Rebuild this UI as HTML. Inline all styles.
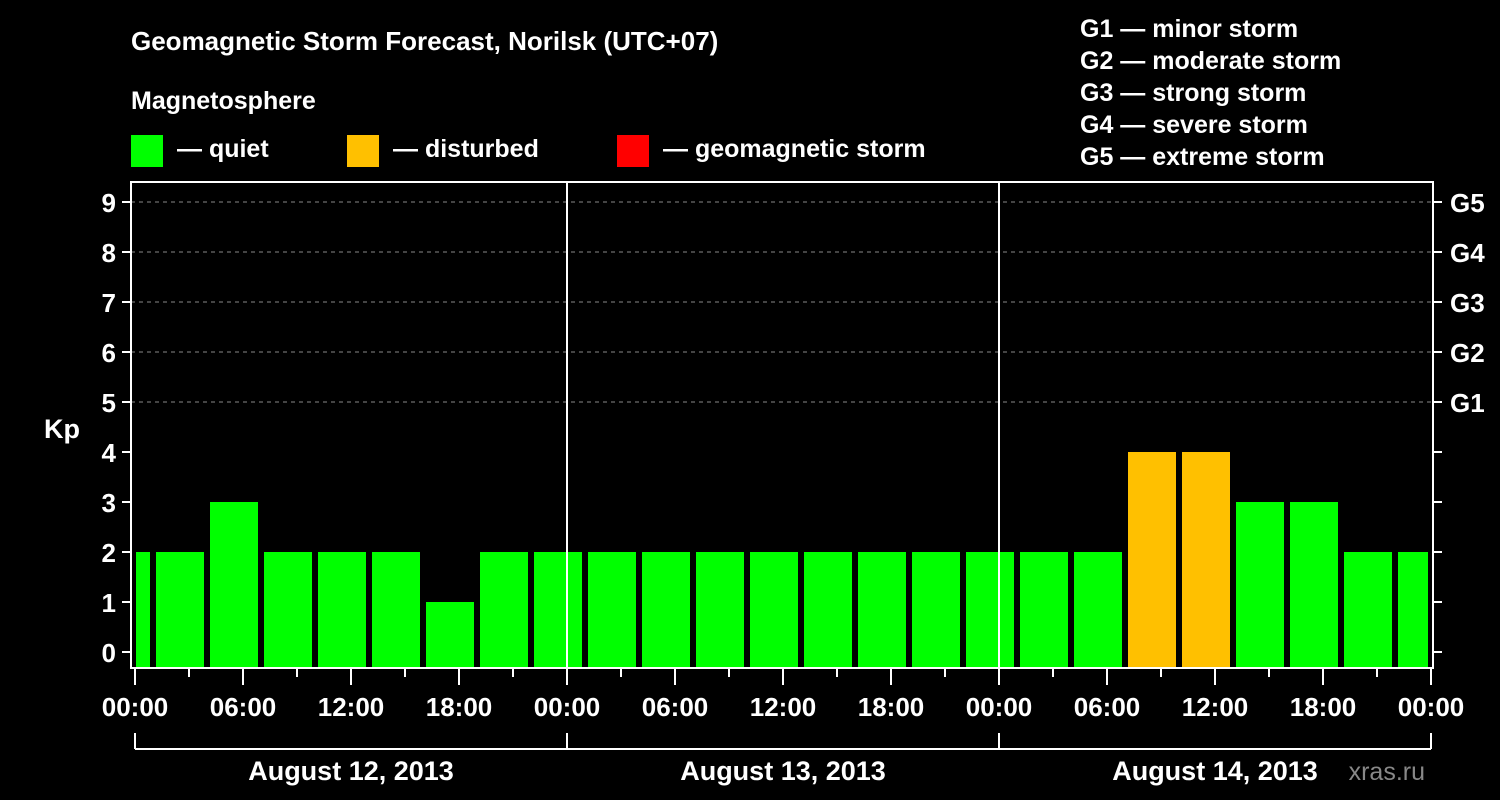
<!DOCTYPE html>
<html><head><meta charset="utf-8"><style>
body{margin:0;background:#000;}
svg{display:block;font-family:"Liberation Sans",Arial,sans-serif;font-weight:bold;}
</style></head><body>
<svg id="chart" width="1500" height="800" viewBox="0 0 1500 800">
<rect width="1500" height="800" fill="#000"/>
<text x="131" y="50" fill="#fff" font-size="26">Geomagnetic Storm Forecast, Norilsk (UTC+07)</text>
<text x="131" y="109" fill="#fff" font-size="25">Magnetosphere</text>
<g><rect x="131" y="135" width="32" height="32" fill="#00ff00"/><text x="177" y="157" fill="#fff" font-size="25">— quiet</text></g>
<g><rect x="347" y="135" width="32" height="32" fill="#ffc000"/><text x="393" y="157" fill="#fff" font-size="25">— disturbed</text></g>
<g><rect x="617" y="135" width="32" height="32" fill="#ff0000"/><text x="663" y="157" fill="#fff" font-size="25">— geomagnetic storm</text></g>
<g fill="#fff" font-size="25">
<text x="1080" y="37">G1 — minor storm</text>
<text x="1080" y="69">G2 — moderate storm</text>
<text x="1080" y="101">G3 — strong storm</text>
<text x="1080" y="133">G4 — severe storm</text>
<text x="1080" y="165">G5 — extreme storm</text>
</g>
<text x="62" y="438" fill="#fff" font-size="27" text-anchor="middle">Kp</text>
<text x="1425" y="780" fill="#888" font-size="25" font-weight="normal" text-anchor="end">xras.ru</text>
<g id="plot"></g>
</svg>
<script>
const kpValues=[2,2,3,2,2,2,1,2,2, 2,2,2,2,2,2,2,2, 2,2,4,4,3,3,2,2];
const binStartHours=[-2,1,4,7,10,13,16,19,22, 25,28,31,34,37,40,43,46, 49,52,55,58,61,64,67,70];
const dayLabels=["August 12, 2013","August 13, 2013","August 14, 2013"];
const hourLabels=["00:00","06:00","12:00","18:00"];
const gLabels=["G1","G2","G3","G4","G5"];
const kpTicks=[0,1,2,3,4,5,6,7,8,9];

const NS="http://www.w3.org/2000/svg";
const g=document.getElementById('plot');
const X0=135,PX_H=18,L=131,R=1433,T=182,B=668;
const x=h=>X0+h*PX_H;
const y=k=>652-k*50;
function el(t,a,txt){const e=document.createElementNS(NS,t);for(const k in a)e.setAttribute(k,a[k]);if(txt!==undefined)e.textContent=txt;g.appendChild(e);return e;}
function color(k){return k>=5?'#ff0000':(k>=4?'#ffc000':'#00ff00');}
// grid
gLabels.forEach((lab,i)=>{const k=5+i;
 const ln=el('line',{x1:L,x2:R,y1:y(k),y2:y(k),stroke:'#888','stroke-dasharray':'4,4','stroke-width':1});
 
 const t=el('text',{x:1450,y:y(k)+10,fill:'#fff','font-size':26},lab);
 
});
// bars
kpValues.forEach((v,i)=>{
 let x1=x(binStartHours[i])+3,x2=x(binStartHours[i]+3)-3;
 x1=Math.max(x1,136);x2=Math.min(x2,1428);
 const r=el('rect',{x:x1,y:y(v),width:x2-x1,height:B-y(v),fill:color(v)});
 
});
// day separators
[1,2].forEach(d=>{const ln=el('line',{x1:x(d*24),x2:x(d*24),y1:T,y2:B,stroke:'#fff','stroke-width':2});
 });
// frame
const fr=el('rect',{x:L,y:T,width:R-L,height:B-T,fill:'none',stroke:'#fff','stroke-width':2});

// y ticks
kpTicks.forEach(k=>{
 el('line',{x1:L-9,x2:L,y1:y(k),y2:y(k),stroke:'#fff','stroke-width':2});
 el('line',{x1:R,x2:R+9,y1:y(k),y2:y(k),stroke:'#fff','stroke-width':2});
 const t=el('text',{x:116,y:y(k)+10,fill:'#fff','font-size':26,'text-anchor':'end'},k);
 
});
// x ticks
for(let h=0;h<=72;h+=3){
 const major=h%6===0;
 el('line',{x1:x(h),x2:x(h),y1:B,y2:B+(major?17:9),stroke:'#fff','stroke-width':2});
 if(major){const t=el('text',{x:x(h),y:716,fill:'#fff','font-size':26,'text-anchor':'middle'},hourLabels[(h%24)/6]);
  }
}
// day bracket
el('line',{x1:x(0),x2:x(72),y1:749,y2:749,stroke:'#fff','stroke-width':2});
for(let d=0;d<=3;d++)el('line',{x1:x(d*24),x2:x(d*24),y1:733,y2:749,stroke:'#fff','stroke-width':2});
dayLabels.forEach((lab,d)=>{const t=el('text',{x:x(d*24+12),y:780,fill:'#fff','font-size':27,'text-anchor':'middle'},lab);
 });
</script>
</body></html>
